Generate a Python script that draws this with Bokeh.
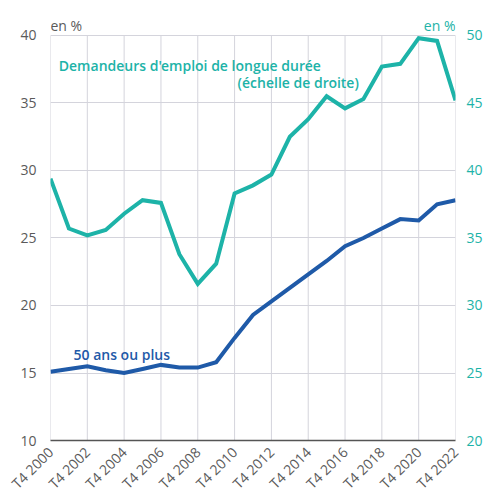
import math
from bokeh.plotting import figure
from bokeh.models import Range1d, LinearAxis, FixedTicker, Label
from bokeh.embed import file_html
from bokeh.resources import INLINE

years = list(range(2000, 2023))
tick_years = list(range(2000, 2023, 2))
tick_labels = {y: f"T4 {y}" for y in tick_years}

# Demandeurs d'emploi de longue durée (right axis, %)
longue_duree = [39.4, 35.7, 35.2, 35.6, 36.8, 37.8, 37.6, 33.8, 31.6, 33.1,
                38.3, 38.9, 39.7, 42.5, 43.8, 45.5, 44.6, 45.3, 47.7, 47.9,
                49.8, 49.6, 45.2]
# 50 ans ou plus (left axis, %)
plus50 = [15.1, 15.3, 15.5, 15.2, 15.0, 15.3, 15.6, 15.4, 15.4, 15.8,
          17.6, 19.3, 20.3, 21.3, 22.3, 23.3, 24.4, 25.0, 25.7, 26.4,
          26.3, 27.5, 27.8]

left_ticks = [10, 15, 20, 25, 30, 35, 40]
right_ticks = [20, 25, 30, 35, 40, 45, 50]

TEAL = "#1db3a8"
BLUE = "#1f5aa8"
GRAY = "#5a5a5a"
GRID = "#d4d4dc"
FONT = "Open Sans"
FONT_SEMI = "'Open Sans SemiBold', 'Open Sans'"

HEAD = 1.7037  # room above the top tick for the "en %" headers

p = figure(frame_width=405, frame_height=428, output_backend="svg",
           toolbar_location=None, x_range=Range1d(2000, 2022),
           y_range=Range1d(left_ticks[0], left_ticks[-1] + HEAD),
           min_border_left=50, min_border_right=22, min_border_top=12,
           min_border_bottom=48)
p.outline_line_color = None
p.background_fill_color = "white"
p.border_fill_color = "white"

p.extra_y_ranges = {"right": Range1d(right_ticks[0], right_ticks[-1] + HEAD)}

# x axis
xa = p.xaxis[0]
xa.ticker = FixedTicker(ticks=tick_years)
xa.major_label_overrides = tick_labels
xa.major_label_orientation = math.pi / 4
xa.major_tick_line_color = None
xa.minor_tick_line_color = None
xa.axis_line_color = "#555555"
xa.axis_line_width = 1.5
xa.major_label_text_font = FONT
xa.major_label_text_font_size = "14px"
xa.major_label_text_color = GRAY
xa.major_label_standoff = 3

# left axis
ya = p.yaxis[0]
ya.ticker = FixedTicker(ticks=left_ticks)
ya.axis_line_color = None
ya.major_tick_line_color = None
ya.minor_tick_line_color = None
ya.major_label_text_font = FONT
ya.major_label_text_font_size = "14px"
ya.major_label_text_color = GRAY
ya.major_label_standoff = 8

# right axis
ra = LinearAxis(y_range_name="right", ticker=FixedTicker(ticks=right_ticks))
ra.axis_line_color = None
ra.major_tick_line_color = None
ra.minor_tick_line_color = None
ra.major_label_text_font = FONT
ra.major_label_text_font_size = "14px"
ra.major_label_text_color = TEAL
ra.major_label_standoff = 5
p.add_layout(ra, "right")

# grid: horizontal from ticks, vertical drawn only between the bottom and top ticks
p.xgrid.grid_line_color = None
p.ygrid.grid_line_color = GRID
p.ygrid.ticker = FixedTicker(ticks=left_ticks)
p.segment(x0=tick_years, y0=[left_ticks[0]] * len(tick_years),
          x1=tick_years, y1=[left_ticks[-1]] * len(tick_years),
          line_color=GRID, line_width=1)

p.line(years, longue_duree, y_range_name="right", line_color=TEAL,
       line_width=4, line_join="miter")
p.line(years, plus50, line_color=BLUE, line_width=4, line_join="miter")

def lab(x, y, text, color, align="left", semi=True):
    p.add_layout(Label(x=x, y=y, text=text, text_color=color,
                       text_font=FONT_SEMI if semi else FONT,
                       text_font_size="14px", text_font_style="normal",
                       text_align=align, text_baseline="alphabetic"))

lab(2000.45, 37.75, "Demandeurs d'emploi de longue durée", TEAL)
lab(2016.75, 36.55, "(échelle de droite)", TEAL, align="right")
lab(2001.25, 16.37, "50 ans ou plus", BLUE)
lab(2000.0, 40.74, "en %", GRAY, semi=False)
lab(2022.0, 40.74, "en %", TEAL, align="right", semi=False)

open("out.html", "w").write(file_html(p, INLINE))
